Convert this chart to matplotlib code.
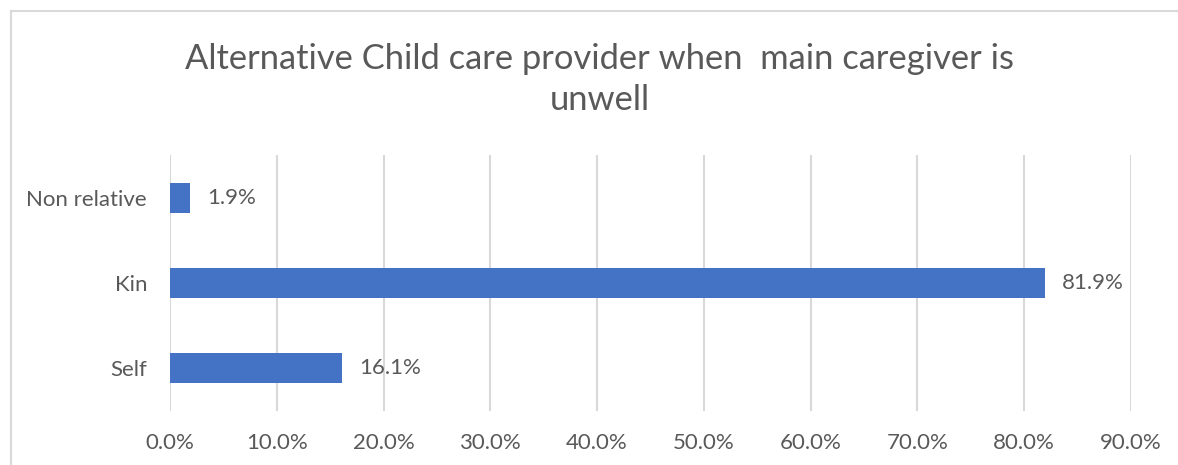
import matplotlib
matplotlib.use("Agg")
import matplotlib.pyplot as plt
from matplotlib.lines import Line2D
from matplotlib.ticker import PercentFormatter

# care provider shares (percent), bottom to top
categories = ["Self", "Kin", "Non relative"]
shares = [16.1, 81.9, 1.9]
xticks = [0, 10, 20, 30, 40, 50, 60, 70, 80, 90]

plt.rcParams['font.family'] = ['Lato', 'DejaVu Sans']
TXT = "#595959"
BAR = "#4472C4"
GRID = "#D9D9D9"

fig = plt.figure(figsize=(11.78, 4.65), dpi=100)
ax = fig.add_axes([0.1443, 0.1172, 0.8158, 0.5484])

ax.barh(categories, shares, height=0.35, color=BAR, zorder=3)
for i, v in enumerate(shares):
    ax.text(v + 1.6, i, f"{v:.1f}%", va="center", ha="left",
            fontsize=16, color=TXT)

ax.set_xlim(0, 90)
ax.set_ylim(-0.5, 2.5)
ax.set_xticks(xticks)
ax.xaxis.set_major_formatter(PercentFormatter(decimals=1))
ax.grid(axis="x", color=GRID, linewidth=1.5, zorder=0)
ax.tick_params(axis="both", length=0, labelsize=16, labelcolor=TXT)
ax.tick_params(axis="x", pad=16)
ax.tick_params(axis="y", pad=16.5)
for s in ax.spines.values():
    s.set_visible(False)

fig.text(0.509, 0.829, "Alternative Child care provider when  main caregiver is\nunwell",
         ha="center", va="center", fontsize=24.8, color=TXT, linespacing=1.38)

# chart frame (only left and top edges are visible)
fig.add_artist(Line2D([10.5 / 1178, 10.5 / 1178], [0, 1 - 11 / 465],
                      transform=fig.transFigure, color=GRID, linewidth=1.5))
fig.add_artist(Line2D([10.5 / 1178, 1], [1 - 11 / 465, 1 - 11 / 465],
                      transform=fig.transFigure, color=GRID, linewidth=1.5))

fig.savefig("out.png", dpi=100, facecolor="white")
